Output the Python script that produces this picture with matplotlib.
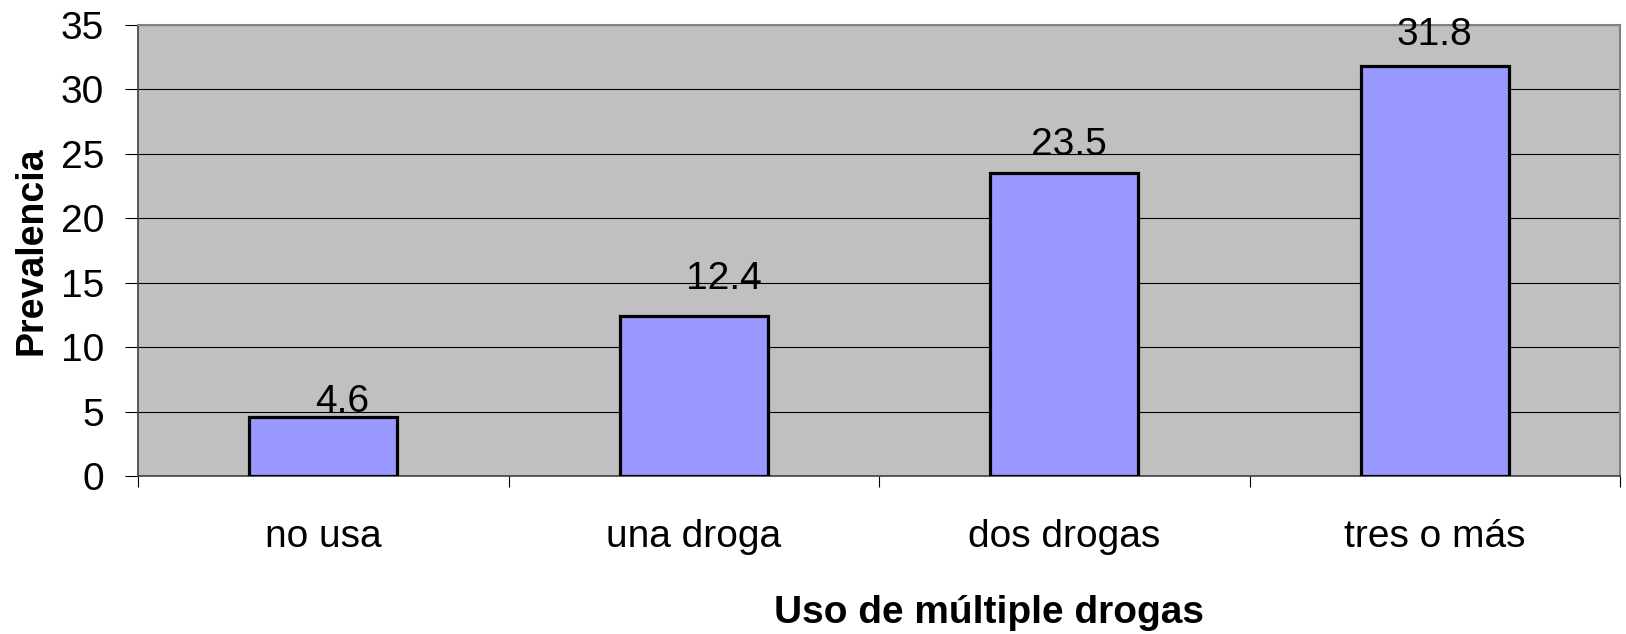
import numpy as np
import matplotlib
matplotlib.use('Agg')
import matplotlib.pyplot as plt

plt.rcParams['font.family'] = ['Liberation Sans', 'DejaVu Sans']
plt.rcParams['font.size'] = 28

categories = ['no usa', 'una droga', 'dos drogas', 'tres o más']
prevalencia = [4.6, 12.4, 23.5, 31.8]
# label nudges in pixels (dx, dy above bar top)
label_dx = [19, 30, 5, 0]
label_dy = [5, 27, 18, 21]

fig = plt.figure(figsize=(16.26, 6.34), dpi=100)
ax = fig.add_axes([138/1626, 1-476/634, (1620-138)/1626, (476-25)/634])
ax.set_facecolor('#C0C0C0')

x = np.arange(len(categories))
bars = ax.bar(x, prevalencia, width=0.4, color='#9999FF',
              edgecolor='black', linewidth=2.3, zorder=3)

for b, v, dx, dy in zip(bars, prevalencia, label_dx, label_dy):
    ax.annotate(f'{v:.1f}', (b.get_x() + b.get_width()/2, v),
                xytext=(dx, dy), textcoords='offset pixels',
                ha='center', va='baseline', fontsize=28, zorder=4)

ax.set_xlim(-0.5, len(categories) - 0.5)
ax.set_ylim(0, 35)
ax.set_yticks(np.arange(0, 36, 5))
ax.yaxis.grid(True, color='black', linewidth=0.8, zorder=1)
ax.set_axisbelow(True)

ax.set_xticks(np.arange(-0.5, len(categories)), labels=[''] * (len(categories) + 1))
ax.set_xticks(x, minor=True)
ax.set_xticklabels(categories, minor=True)
ax.tick_params(axis='x', which='major', length=8, width=0.8, direction='out')
ax.tick_params(axis='x', which='minor', length=0, pad=31)
ax.tick_params(axis='y', length=9.5, width=0.8, direction='out', pad=15)

for s in ['top', 'right']:
    ax.spines[s].set_color('#808080')
    ax.spines[s].set_linewidth(1.5)
ax.spines['left'].set_color('#404040')
ax.spines['bottom'].set_color('#404040')
ax.spines['left'].set_linewidth(1.2)
ax.spines['bottom'].set_linewidth(1.2)

ax.set_ylabel('Prevalencia', fontweight='bold', fontsize=27, va='center')
ax.yaxis.set_label_coords(-(138-31)/1482, 0.5)
ax.set_xlabel('Uso de múltiple drogas', fontweight='bold', fontsize=28, va='baseline')
ax.xaxis.set_label_coords((989-138)/1482, -(623-476)/451)

fig.savefig('out.png', dpi=100)
